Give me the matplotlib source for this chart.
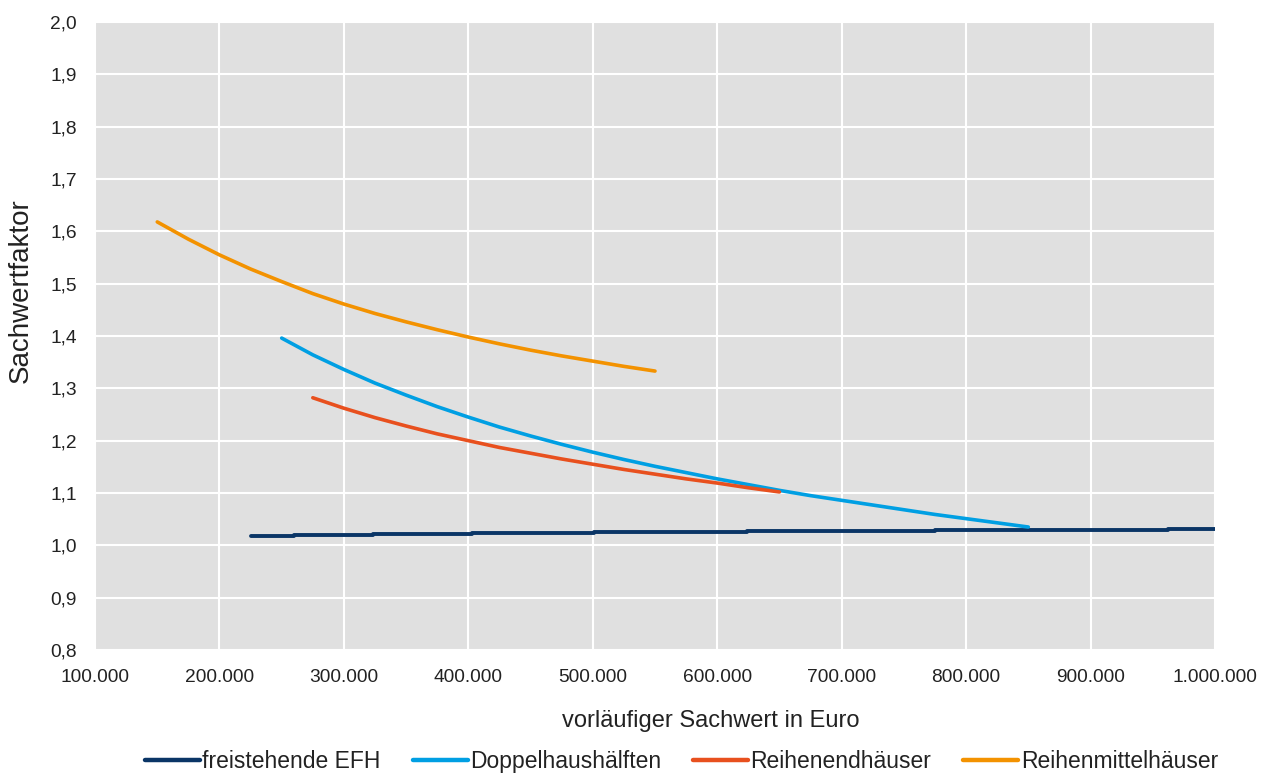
import numpy as np
import matplotlib.pyplot as plt
from matplotlib.ticker import FuncFormatter

plt.rcParams['font.family'] = ['Liberation Sans', 'DejaVu Sans']

# Werte (x in Euro)
efh_x = [225000, 260000, 323000, 403000, 501000, 624000, 775000, 962000, 1000000]
efh_y = [1.018, 1.020, 1.022, 1.023, 1.025, 1.027, 1.029, 1.031, 1.031]

dhh_x = [250000, 275000, 300000, 325000, 350000, 375000, 400000, 425000, 450000,
         475000, 500000, 525000, 550000, 575000, 600000, 625000, 650000, 675000,
         700000, 725000, 750000, 775000, 800000, 825000, 850000]
dhh_y = [1.396, 1.364, 1.336, 1.310, 1.287, 1.265, 1.245, 1.226, 1.209,
         1.193, 1.178, 1.164, 1.151, 1.139, 1.127, 1.116, 1.105, 1.095,
         1.086, 1.077, 1.068, 1.059, 1.051, 1.043, 1.035]

reh_x = [275000, 300000, 325000, 350000, 375000, 400000, 425000, 450000,
         475000, 500000, 525000, 550000, 575000, 600000, 625000, 650000]
reh_y = [1.282, 1.262, 1.244, 1.228, 1.213, 1.200, 1.187, 1.176,
         1.165, 1.155, 1.145, 1.136, 1.127, 1.119, 1.110, 1.102]

rmh_x = [150000, 175000, 200000, 225000, 250000, 275000, 300000, 325000, 350000,
         375000, 400000, 425000, 450000, 475000, 500000, 525000, 550000]
rmh_y = [1.618, 1.585, 1.555, 1.528, 1.504, 1.481, 1.461, 1.443, 1.427,
         1.412, 1.398, 1.385, 1.373, 1.362, 1.352, 1.342, 1.333]

labels = ["freistehende EFH", "Doppelhaushälften", "Reihenendhäuser", "Reihenmittelhäuser"]
colors = ["#0a3566", "#009fe3", "#e8501e", "#f39200"]
txt = "#222222"

fig = plt.figure(figsize=(12.69, 7.75), dpi=100)
ax = fig.add_axes([0.0749, 0.1613, 0.8825, 0.8103])
ax.set_facecolor("#e0e0e0")

ax.plot(efh_x, efh_y, color=colors[0], lw=2.8, drawstyle='steps-post',
        label=labels[0], solid_capstyle='round')
ax.plot(dhh_x, dhh_y, color=colors[1], lw=2.6, label=labels[1], solid_capstyle='round')
ax.plot(reh_x, reh_y, color=colors[2], lw=2.6, label=labels[2], solid_capstyle='round')
ax.plot(rmh_x, rmh_y, color=colors[3], lw=2.6, label=labels[3], solid_capstyle='round')

ax.set_xlim(100000, 1000000)
ax.set_ylim(0.8, 2.0)
ax.set_xticks(np.arange(100000, 1000001, 100000))
ax.set_yticks(np.arange(0.8, 2.001, 0.1))
ax.xaxis.set_major_formatter(FuncFormatter(lambda v, p: f"{int(round(v)):,}".replace(",", ".")))
ax.yaxis.set_major_formatter(FuncFormatter(lambda v, p: f"{v:.1f}".replace(".", ",")))
ax.grid(True, color="white", lw=1.5)
ax.set_axisbelow(True)
ax.tick_params(length=0, labelsize=13.8, labelcolor=txt)
ax.tick_params(axis='x', pad=14)
ax.tick_params(axis='y', pad=13)
for s in ax.spines.values():
    s.set_visible(False)

ax.set_ylabel("Sachwertfaktor", fontsize=20, color=txt)
ax.yaxis.set_label_coords(-0.055, 0.573)
ax.set_xlabel("vorläufiger Sachwert in Euro", fontsize=17, color=txt)
ax.xaxis.set_label_coords(0.55, -0.096)

fig.legend(loc='center', bbox_to_anchor=(0.537, 0.017), ncol=4, frameon=False,
           fontsize=16.5, handlelength=2.4, columnspacing=1.4, handletextpad=0.1,
           labelcolor=txt)
for ln in fig.legends[0].get_lines():
    ln.set_linewidth(3.2)

fig.savefig("out.png", dpi=100)
